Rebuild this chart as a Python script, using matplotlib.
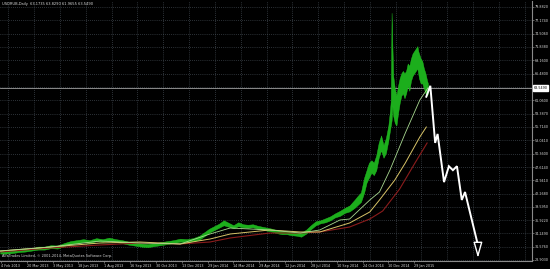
#USDRUB daily chart (MetaTrader style) with hand-drawn forecast arrow
import matplotlib.pyplot as plt

# bar index (trading days from 4 Feb 2013) and daily range
bars = [-1, 6, 14, 22, 30, 38, 46, 54, 62, 70,
        78, 86, 94, 102, 110, 118, 126, 134, 142, 150,
        158, 166, 174, 182, 190, 198, 206, 214, 222, 230,
        238, 246, 252, 258, 264, 270, 276, 282, 288, 294,
        300, 306, 312, 318, 324, 330, 336, 342, 348, 354,
        360, 366, 372, 378, 384, 390, 396, 402, 408, 414,
        420, 426, 432, 438, 442, 446, 450, 453, 456, 459,
        462, 465, 468, 471, 474, 477, 480, 482, 483, 484,
        485, 486, 488, 490, 492, 494, 496, 498, 500, 502,
        504, 506, 508, 510, 512, 514, 516, 517, 518, 520,
        522, 524, 526, 528, 529]
hi = [30.8, 30.6, 30.9, 31.1, 31.2, 31.2, 31.6, 31.6, 31.9, 31.8,
      32.3, 32.7, 32.9, 33.1, 32.9, 33.3, 33.1, 33.4, 33.1, 32.9,
      32.6, 32.4, 32.2, 32.1, 32.3, 32.5, 32.7, 32.9, 33.2, 33.1,
      33.3, 33.8, 34.5, 35.2, 35.7, 36.2, 36.9, 36.4, 35.9, 36.5,
      36.1, 36.0, 36.1, 35.8, 35.6, 35.4, 35.2, 34.9, 34.7, 34.7,
      34.5, 34.4, 34.4, 35.0, 35.9, 36.7, 36.9, 37.3, 37.7, 38.3,
      38.8, 39.4, 39.9, 41.0, 41.8, 42.5, 45.5, 47.0, 48.5, 49.0,
      48.5, 50.0, 52.5, 54.0, 52.0, 53.5, 56.0, 59.0, 61.0, 78.7,
      72.0, 66.0, 63.5, 62.0, 64.0, 65.5, 66.5, 67.0, 66.5, 67.0,
      68.5, 68.0, 69.5, 70.5, 71.0, 71.5, 72.0, 71.0, 70.5, 69.5,
      69.0, 67.5, 66.5, 65.0, 64.5]
lo = [30.2, 30.2, 30.3, 30.5, 30.6, 30.8, 31.0, 31.0, 31.3, 31.2,
      31.7, 32.1, 32.3, 32.5, 32.3, 32.7, 32.6, 32.8, 32.5, 32.3,
      32.0, 31.8, 31.6, 31.5, 31.7, 31.9, 32.1, 32.3, 32.6, 32.5,
      32.7, 33.0, 33.7, 34.4, 34.9, 35.4, 35.9, 35.6, 35.3, 35.7,
      35.5, 35.4, 35.5, 35.2, 35.0, 34.8, 34.6, 34.3, 34.1, 34.1,
      33.9, 33.8, 33.6, 34.2, 35.1, 35.9, 36.3, 36.5, 36.9, 37.5,
      37.8, 38.4, 38.7, 39.4, 40.0, 40.6, 42.5, 44.5, 45.5, 46.5,
      46.0, 47.0, 49.5, 51.0, 49.5, 50.5, 53.0, 55.0, 56.0, 57.0,
      60.0, 58.0, 56.5, 56.0, 58.5, 60.5, 62.0, 62.5, 61.5, 62.5,
      64.0, 63.0, 65.0, 66.0, 66.5, 67.0, 67.5, 66.5, 65.5, 64.5,
      64.5, 63.5, 62.5, 62.0, 62.5]

# moving averages
ma_fast_x = [-1, 61, 123, 172, 222, 259, 284, 333, 371, 395, 420, 432, 457, 469, 482, 501, 519, 529]
ma_fast = [30.72, 31.52, 32.73, 32.33, 32.13, 34.14, 35.35, 34.95, 34.34, 34.95,
           36.96, 37.16, 40.99, 42.60, 47.04, 54.49, 61.14, 63.56]
ma_mid_x = [-1, 61, 123, 172, 222, 259, 284, 333, 371, 395, 432, 457, 469, 488, 501, 519, 527]
ma_mid = [30.72, 31.52, 32.33, 32.53, 32.13, 33.13, 34.14, 34.95, 34.55, 34.55,
          36.36, 38.58, 40.99, 45.02, 48.45, 53.69, 55.70]
ma_slow_x = [-1, 61, 123, 172, 222, 259, 284, 333, 371, 395, 432, 457, 473, 494, 513, 528]
ma_slow = [30.52, 31.32, 31.93, 32.33, 32.13, 32.53, 33.34, 34.34, 34.34, 34.55,
           35.55, 37.16, 38.78, 43.21, 48.45, 52.48]

# forecast drawn by hand
fc_x = [527, 532, 538, 541, 549, 555, 560, 565, 571, 575, 591]
fc_y = [61.8, 64.0, 52.5, 54.3, 44.6, 47.8, 47.0, 47.8, 41.0, 42.6, 31.9]
tip_y = 29.3

bid = 63.5490
header = "USDRUB,Daily  63.1735 63.8290 61.9655 63.5490"
footer = "AlfaTrades Limited, \u00a9 2001-2014, MetaQuotes Software Corp."

xtick_bars = [0, 32, 64, 96, 128, 160, 192, 224, 256, 288, 320, 352, 384, 416, 448, 480, 512]
xtick_labels = ["4 Feb 2013", "20 Mar 2013", "3 May 2013", "18 Jun 2013", "1 Aug 2013",
                "16 Sep 2013", "30 Oct 2013", "13 Dec 2013", "29 Jan 2014", "14 Mar 2014",
                "29 Apr 2014", "12 Jun 2014", "28 Jul 2014", "10 Sep 2014", "24 Oct 2014",
                "10 Dec 2014", "29 Jan 2015"]
grid_y = [28.9030, 31.5760, 34.2490, 36.9220, 39.5950, 42.2680, 44.9410, 47.6140,
          50.3600, 53.0410, 55.7140, 58.3870, 61.0600, 63.7330, 66.4800, 69.1600,
          71.8380, 74.5060, 77.1740, 79.8820]
ytick_vals = [v for v in grid_y if v != 63.7330]   # hidden under the bid label

fig = plt.figure(figsize=(5.5, 2.69), dpi=100, facecolor='black')
ax = fig.add_axes([0, 8/269, 532/550, 260/269], facecolor='black')
ax.set_xlim(-1.24, 658)
ax.set_ylim(28.70, 81.09)

# grid
for g in range(9, 658, 32):
    ax.axvline(g, color='#56606a', lw=0.5, ls=(0, (1, 2)), zorder=0)
for v in grid_y:
    ax.axhline(v, color='#56606a', lw=0.5, ls=(0, (1, 2)), zorder=0)

ax.fill_between(bars, lo, hi, color='#1cae1c', lw=0.3, edgecolor='#22c822', zorder=2)
ax.plot(ma_slow_x, ma_slow, color='#8b1c1c', lw=0.8, zorder=3)
ax.plot(ma_mid_x, ma_mid, color='#d8c468', lw=0.7, zorder=3)
ax.plot(ma_fast_x, ma_fast, color='#a8d890', lw=0.6, zorder=3)

ax.axhline(bid, color='#a0a0a0', lw=0.6, zorder=1)

ax.plot(fc_x, fc_y, color='white', lw=1.4, zorder=5, solid_joinstyle='miter')
ax.annotate('', xy=(fc_x[-1], tip_y), xytext=(fc_x[-1], fc_y[-1]),
            arrowprops=dict(arrowstyle='-|>,head_length=0.95,head_width=0.27',
                            fc='black', ec='white', lw=1.0, shrinkA=0, shrinkB=0),
            zorder=6)

for s in ['left', 'top']:
    ax.spines[s].set_visible(False)
for s in ['right', 'bottom']:
    ax.spines[s].set_color('#8a8a8a')
    ax.spines[s].set_linewidth(0.8)

ax.yaxis.tick_right()
ax.set_yticks(ytick_vals)
ax.set_yticklabels(['%.4f' % v for v in ytick_vals])
ax.set_xticks(xtick_bars)
ax.set_xticklabels(xtick_labels)
for lbl in ax.get_xticklabels():
    lbl.set_ha('left')
ax.tick_params(axis='both', colors='#8a8a8a', labelcolor='#d8d8d8', labelsize=2.4,
               length=1.5, width=0.5, pad=0.6)

ax.text(1.003, bid, '%.4f' % bid, transform=ax.get_yaxis_transform(), fontsize=2.4,
        color='black', va='center', ha='left', zorder=10, clip_on=False,
        bbox=dict(fc='white', ec='white', pad=0.5))
ax.text(0.004, 0.987, header, transform=ax.transAxes, fontsize=2.6, color='#d8d8d8',
        va='center', ha='left')
ax.text(0.004, 0.02, footer, transform=ax.transAxes, fontsize=2.5, color='#d8d8d8',
        va='center', ha='left')

plt.savefig('out.png', dpi=100, facecolor='black')
